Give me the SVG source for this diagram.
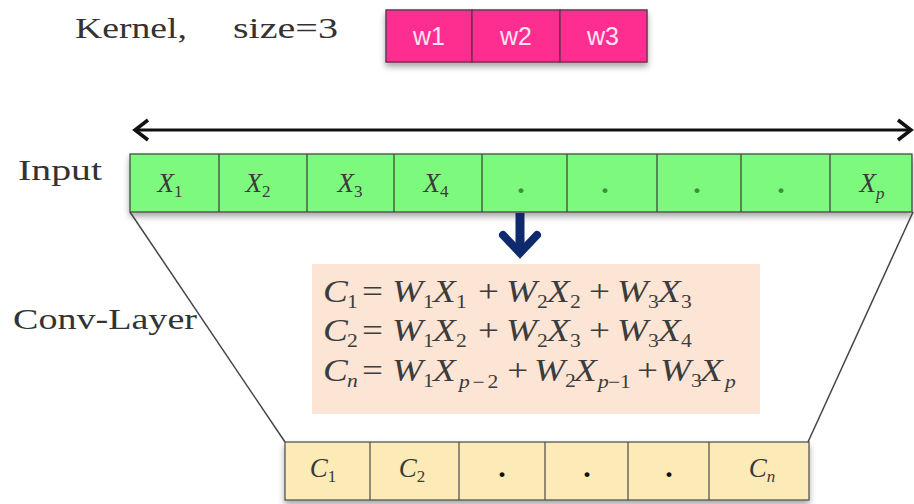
<svg xmlns="http://www.w3.org/2000/svg" width="914" height="504" viewBox="0 0 914 504">
<style>
.lbl{font-family:"Liberation Serif","DejaVu Serif",serif;font-size:29px;fill:#333}
.kc{fill:#fe2d91;stroke:#6e3352;stroke-width:1.5}
.kt{font-family:"Liberation Sans",Arial,sans-serif;font-size:25px;fill:#ffe3f1;text-anchor:middle}
.ic{fill:#7dfa7d;stroke:#3d3d3d;stroke-width:1.2}
.oc{fill:#fcebb7;stroke:#4a4a4a;stroke-width:1.2}
.xv{font-family:"Liberation Serif","DejaVu Serif",serif;font-style:italic;font-size:27px;fill:#3a3a3a;text-anchor:middle}
.xs{font-style:normal;font-size:17px}
.xsi{font-size:17px}
.dot{font-family:"Liberation Serif","DejaVu Serif",serif;font-weight:bold;font-size:30px;text-anchor:middle}
.f{font-family:"Liberation Serif","DejaVu Serif",serif;font-size:31px;fill:#3c3c3c}
.m{font-style:italic}
.s{font-size:18px;font-style:normal}
.si{font-size:18px;font-style:italic}
.ln{stroke:#444;stroke-width:1.5;fill:none}
</style>
<defs>
<filter id="sh" x="-10%" y="-20%" width="120%" height="160%">
<feDropShadow dx="0" dy="4" stdDeviation="3" flood-color="#000" flood-opacity="0.35"/>
</filter>
</defs>

<g id="kernel-label">
<text class="lbl" x="75" y="38" textLength="112" lengthAdjust="spacingAndGlyphs">Kernel,</text>
<text class="lbl" x="233" y="38" textLength="105" lengthAdjust="spacingAndGlyphs">size=3</text>
</g>

<g id="kernel" filter="url(#sh)">
<rect class="kc" x="386" y="10" width="86" height="52"/>
<rect class="kc" x="472" y="10" width="88" height="52"/>
<rect class="kc" x="560" y="10" width="87" height="52"/>
</g>
<g id="kernel-text">
<text class="kt" x="429" y="45">w1</text>
<text class="kt" x="516" y="45">w2</text>
<text class="kt" x="603" y="45">w3</text>
</g>

<g id="input-label">
<text class="lbl" x="18" y="180" textLength="84" lengthAdjust="spacingAndGlyphs">Input</text>
</g>

<g id="input">
<g filter="url(#sh)">
<rect class="ic" x="130" y="154" width="782" height="58"/>
</g>
<path class="ic" fill="none" d="M219 154V212M307 154V212M394 154V212M482 154V212M567 154V212M657 154V212M741 154V212M830 154V212"/>
<text class="xv" x="170" y="192">X<tspan class="xs" dy="5">1</tspan></text>
<text class="xv" x="258" y="192">X<tspan class="xs" dy="5">2</tspan></text>
<text class="xv" x="350" y="192">X<tspan class="xs" dy="5">3</tspan></text>
<text class="xv" x="436" y="192">X<tspan class="xs" dy="5">4</tspan></text>
<text class="dot" x="521" y="193" fill="#3c8f3c">.</text>
<text class="dot" x="605" y="193" fill="#3c8f3c">.</text>
<text class="dot" x="697" y="193" fill="#3c8f3c">.</text>
<text class="dot" x="781" y="193" fill="#3c8f3c">.</text>
<text class="xv" x="872" y="192">X<tspan class="xsi" dy="7">p</tspan></text>
</g>

<g id="conv-label">
<text class="lbl" x="13" y="329" textLength="184" lengthAdjust="spacingAndGlyphs">Conv-Layer</text>
</g>

<g id="formula">
<rect x="312" y="264" width="448" height="150" fill="#fce5d5"/>
<g transform="translate(323 0) scale(1.2 1)">
<text class="f" y="302"><tspan class="m" x="0">C</tspan><tspan class="s" x="20" y="308">1</tspan><tspan x="32.5" y="302">=</tspan><tspan class="m" x="57.5">W</tspan><tspan class="s" x="83.3" y="308">1</tspan><tspan class="m" x="91.7" y="302">X</tspan><tspan class="s" x="110.8" y="308">1</tspan><tspan x="129.2" y="302">+</tspan><tspan class="m" x="152.5">W</tspan><tspan class="s" x="178.3" y="308">2</tspan><tspan class="m" x="186.7" y="302">X</tspan><tspan class="s" x="205.8" y="308">2</tspan><tspan x="221.7" y="302">+</tspan><tspan class="m" x="245">W</tspan><tspan class="s" x="270.8" y="308">3</tspan><tspan class="m" x="279.2" y="302">X</tspan><tspan class="s" x="298.3" y="308">3</tspan></text>
<text class="f" y="341"><tspan class="m" x="0">C</tspan><tspan class="s" x="20" y="347">2</tspan><tspan x="32.5" y="341">=</tspan><tspan class="m" x="57.5">W</tspan><tspan class="s" x="83.3" y="347">1</tspan><tspan class="m" x="91.7" y="341">X</tspan><tspan class="s" x="110.8" y="347">2</tspan><tspan x="129.2" y="341">+</tspan><tspan class="m" x="152.5">W</tspan><tspan class="s" x="178.3" y="347">2</tspan><tspan class="m" x="186.7" y="341">X</tspan><tspan class="s" x="205.8" y="347">3</tspan><tspan x="221.7" y="341">+</tspan><tspan class="m" x="245">W</tspan><tspan class="s" x="270.8" y="347">3</tspan><tspan class="m" x="279.2" y="341">X</tspan><tspan class="s" x="298.3" y="347">4</tspan></text>
<text class="f" y="381"><tspan class="m" x="0">C</tspan><tspan class="si" x="20" y="387">n</tspan><tspan x="32.5" y="381">=</tspan><tspan class="m" x="57.5">W</tspan><tspan class="s" x="83.3" y="387">1</tspan><tspan class="m" x="91.7" y="381">X</tspan><tspan class="si" x="113.3" y="388">p</tspan><tspan class="s" x="124.5" y="388">−</tspan><tspan class="s" x="137" y="388">2</tspan><tspan x="153.5" y="381">+</tspan><tspan class="m" x="175.8">W</tspan><tspan class="s" x="201.7" y="387">2</tspan><tspan class="m" x="209.2" y="381">X</tspan><tspan class="si" x="229.2" y="388">p</tspan><tspan class="s" x="237.5" y="388">−</tspan><tspan class="s" x="247.5" y="388">1</tspan><tspan x="261.7" y="381">+</tspan><tspan class="m" x="280.8">W</tspan><tspan class="s" x="306.7" y="387">3</tspan><tspan class="m" x="314.2" y="381">X</tspan><tspan class="si" x="335" y="388">p</tspan></text>
</g>
</g>

<g id="output">
<g filter="url(#sh)">
<rect class="oc" x="285" y="442" width="524" height="58"/>
</g>
<path class="oc" fill="none" d="M370 442V500M459 442V500M545 442V500M628 442V500M709 442V500"/>
<text class="xv" x="323" y="477">C<tspan class="xs" dy="5">1</tspan></text>
<text class="xv" x="412" y="477">C<tspan class="xs" dy="5">2</tspan></text>
<text class="dot" x="502" y="477" fill="#111">.</text>
<text class="dot" x="587" y="477" fill="#111">.</text>
<text class="dot" x="669" y="477" fill="#111">.</text>
<text class="xv" x="762" y="477">C<tspan class="xsi" dy="5">n</tspan></text>
</g>

<g id="connectors">
<line x1="136" y1="130" x2="910" y2="130" stroke="#111" stroke-width="3"/>
<path d="M148 120 L135 130 L148 140" fill="none" stroke="#111" stroke-width="3.5"/>
<path d="M898 120 L911 130 L898 140" fill="none" stroke="#111" stroke-width="3.5"/>
<line class="ln" x1="130" y1="212" x2="285" y2="442"/>
<line class="ln" x1="913" y1="212" x2="808" y2="442"/>
<line x1="520" y1="213" x2="520" y2="252" stroke="#0f2a6c" stroke-width="9"/>
<path d="M503 235 L520 253 L537 235" fill="none" stroke="#0f2a6c" stroke-width="8" stroke-linecap="round"/>
</g>
</svg>
